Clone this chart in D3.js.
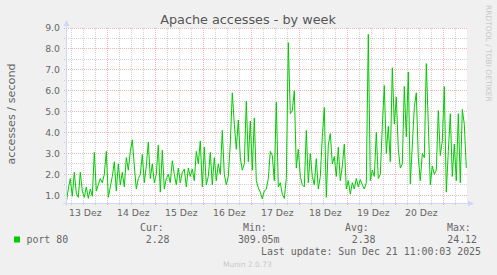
<!DOCTYPE html>
<html><head><meta charset="utf-8">
<script src="https://cdn.jsdelivr.net/npm/d3@7"></script>
<style>body{margin:0;background:#F0F0F0} svg{display:block}</style>
</head><body>
<svg id="c" width="497" height="275"></svg>
<script>
// ---- data ----
const startTime = new Date(2025, 11, 13, 3, 0, 0);
const endTime = new Date(2025, 11, 21, 11, 0, 0);
const stepHours = 1;
const values = [
 0.67,1.3,1.8,0.95,2.1,1.1,0.9,2.1,1.2,0.9,
 1.4,0.85,1.3,0.95,3.05,1.2,1.5,1.8,1.6,2.0,
 3.1,0.9,1.4,1.9,2.6,1.2,2.5,1.5,2.1,1.4,
 2.8,2.2,3.1,3.65,2.4,1.3,1.8,2.0,2.95,1.6,
 2.4,3.55,1.8,2.5,1.6,2.0,3.4,1.15,3.15,1.3,
 1.8,2.0,1.6,2.65,2.0,1.5,2.3,1.6,2.1,2.25,
 1.4,2.3,1.9,2.25,1.7,3.1,2.5,3.6,1.4,3.3,
 1.5,1.9,3.05,1.5,2.8,1.7,2.5,2.0,4.1,2.0,
 1.5,1.9,3.5,5.9,4.4,3.2,4.6,2.8,2.2,2.5,
 5.5,2.6,4.55,2.2,4.7,1.7,1.35,1.15,0.83,1.2,
 1.3,1.8,3.1,2.9,1.7,5.45,1.4,1.6,1.05,0.85,
 1.8,8.3,4.9,5.05,6.0,2.3,3.2,1.9,1.5,1.4,
 4.1,1.6,3.0,1.9,1.5,2.75,1.3,1.9,3.8,5.2,
 0.9,3.4,3.95,2.5,2.85,1.9,3.3,1.7,2.4,3.45,
 1.3,1.7,1.05,1.6,1.3,1.8,1.4,1.75,1.5,1.3,
 1.6,8.7,1.7,2.2,1.9,4.0,1.8,2.0,4.3,6.25,
 3.0,4.3,2.6,7.1,4.4,5.7,3.2,2.3,2.5,6.2,
 3.8,6.9,1.55,3.4,5.2,5.9,2.8,1.7,3.0,2.8,
 7.3,4.4,1.5,2.4,2.0,2.2,5.05,2.9,3.6,6.2,
 1.15,3.1,4.9,1.9,3.45,1.7,4.9,1.6,5.1,4.4,
 2.3
];
const yTicks = [1.0, 2.0, 3.0, 4.0, 5.0, 6.0, 7.0, 8.0, 9.0];
const yMinorTicks = [1.5, 2.5, 3.5, 4.5, 5.5, 6.5, 7.5, 8.5];
const dayLabels = ["13 Dez","14 Dez","15 Dez","16 Dez","17 Dez","18 Dez","19 Dez","20 Dez"];
const seriesName = "port 80";
const statHeads = ["Cur:", "Min:", "Avg:", "Max:"];
const statValues = ["2.28", "309.05m", "2.38", "24.12"];
const titleText = "Apache accesses - by week";
const unitText = "accesses / second";
const lastUpdate = "Last update: Sun Dec 21 11:00:03 2025";

// ---- drawing ----
const svg = d3.select("#c");
const L = 66, R = 467, T = 28, B = 203;
const x = d3.scaleTime().domain([startTime, endTime]).range([65.8, 465.8]);
const y = d3.scaleLinear().domain([0.63, 9.0]).range([B, T]);
const font = "DejaVu Sans, sans-serif";
const mono = "DejaVu Sans Mono, monospace";
const fc = "#666666";
const crisp = v => Math.floor(v) + 0.5;
const minorCol = "rgba(140,140,140,0.4)";
const majorCol = "rgba(225,90,90,0.45)";

svg.append("rect").attr("x", L).attr("y", T).attr("width", R - L).attr("height", B - T).attr("fill", "#fff");

const g = svg.append("g");
const minorT = d3.timeHour.every(6).range(startTime, endTime).filter(d => d.getHours() !== 0);
g.selectAll(".vmin").data(minorT).join("line")
  .attr("x1", d => crisp(x(d))).attr("x2", d => crisp(x(d)))
  .attr("y1", T).attr("y2", B + 3)
  .attr("stroke", minorCol).attr("stroke-dasharray", "1,1");
g.selectAll(".hmin").data(yMinorTicks).join("line")
  .attr("x1", L - 2).attr("x2", R).attr("y1", d => crisp(y(d))).attr("y2", d => crisp(y(d)))
  .attr("stroke", minorCol).attr("stroke-dasharray", "1,1");
const days = d3.timeDay.range(startTime, endTime);
g.selectAll(".vmaj").data(days).join("line")
  .attr("x1", d => crisp(x(d))).attr("x2", d => crisp(x(d)))
  .attr("y1", T).attr("y2", B + 3)
  .attr("stroke", majorCol).attr("stroke-dasharray", "1,1");
g.selectAll(".hmaj").data(yTicks).join("line")
  .attr("x1", L - 2).attr("x2", R).attr("y1", d => crisp(y(d))).attr("y2", d => crisp(y(d)))
  .attr("stroke", majorCol).attr("stroke-dasharray", "1,1");

svg.selectAll(".yl").data(yTicks).join("text")
  .attr("x", 60).attr("y", d => y(d) + 3.4).attr("text-anchor", "end")
  .attr("font-family", font).attr("font-size", 9.3).attr("fill", fc)
  .text(d => d3.format(".1f")(d));

const noons = dayLabels.map((s, i) => d3.timeHour.offset(d3.timeDay.floor(startTime), 24 * i + 12));
svg.selectAll(".xl").data(dayLabels).join("text")
  .attr("x", (d, i) => x(noons[i]) + 1.5).attr("y", 216).attr("text-anchor", "middle")
  .attr("font-family", font).attr("font-size", 9.3).attr("fill", fc)
  .text(d => d);

const times = values.map((v, i) => d3.timeHour.offset(startTime, i * stepHours));
const line = d3.line().x((d, i) => x(times[i]) + 0.5).y(d => y(d));
svg.append("path").datum(values).attr("d", line)
  .attr("fill", "none").attr("stroke", "#00CC00").attr("stroke-width", 1);

const axc = "#CFD6F8";
svg.append("line").attr("x1", 66.5).attr("x2", 66.5).attr("y1", B + 3).attr("y2", 23).attr("stroke", axc);
svg.append("path").attr("d", "M63.5,26L69.5,26L66.5,20Z").attr("fill", axc);
svg.append("line").attr("x1", 63).attr("x2", 469).attr("y1", 203.5).attr("y2", 203.5).attr("stroke", axc);
svg.append("path").attr("d", "M468,200.5L468,206.5L474,203.5Z").attr("fill", axc);

svg.append("text").attr("x", 248).attr("y", 24).attr("text-anchor", "middle")
  .attr("font-family", font).attr("font-size", 12.8).attr("fill", "#555").text(titleText);
svg.append("text").attr("transform", "translate(14.5,114) rotate(-90)").attr("text-anchor", "middle")
  .attr("font-family", font).attr("font-size", 11.2).attr("fill", fc).text(unitText);
svg.append("text").attr("transform", "translate(485.5,5) rotate(90)").attr("text-anchor", "start")
  .attr("font-family", font).attr("font-size", 7.5).attr("fill", "#c8c8c8").text("RRDTOOL / TOBI OETIKER");

const headX = [140, 243, 345, 447];
const valEndX = [169.5, 279.5, 375.5, 477];
svg.selectAll(".sh").data(statHeads).join("text")
  .attr("x", (d, i) => headX[i]).attr("y", 231)
  .attr("font-family", mono).attr("font-size", 9.9).attr("fill", fc).text(d => d);
svg.selectAll(".sv").data(statValues).join("text")
  .attr("x", (d, i) => valEndX[i]).attr("y", 243).attr("text-anchor", "end")
  .attr("font-family", mono).attr("font-size", 9.9).attr("fill", fc).text(d => d);
svg.append("rect").attr("x", 14).attr("y", 236.5).attr("width", 6).attr("height", 6).attr("fill", "#00CC00");
svg.append("text").attr("x", 26.5).attr("y", 243)
  .attr("font-family", mono).attr("font-size", 9.9).attr("fill", fc).text(seriesName);
svg.append("text").attr("x", 261).attr("y", 254.5)
  .attr("font-family", mono).attr("font-size", 9.9).attr("fill", fc).text(lastUpdate);
svg.append("text").attr("x", 223).attr("y", 266.5)
  .attr("font-family", font).attr("font-size", 7.45).attr("fill", "#c8c8c8").text("Munin 2.0.73");
</script>
</body></html>
